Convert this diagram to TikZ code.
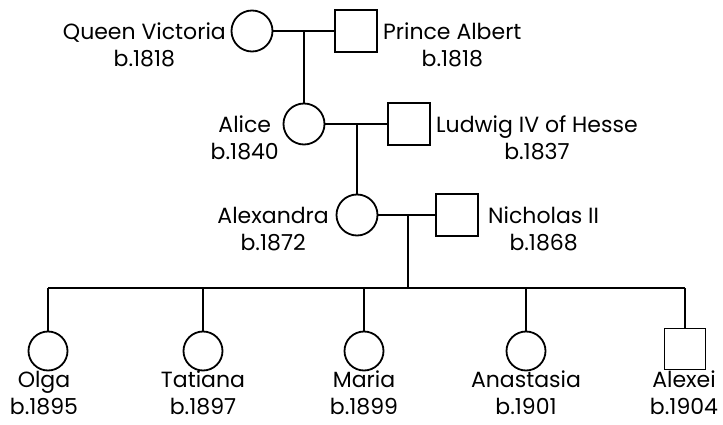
\documentclass[tikz,border=0pt]{standalone}
\usepackage{fontspec}
\setmainfont{Poppins}
\begin{document}
\begin{tikzpicture}[x=1pt,y=-1pt,
  female/.style={draw,circle,line width=1.8pt,minimum size=41pt,inner sep=0pt},
  male/.style={draw,rectangle,line width=1.8pt,minimum size=42pt,inner sep=0pt},
  kid/.style={draw,circle,line width=1.8pt,minimum size=39pt,inner sep=0pt},
  link/.style={line width=2pt},
  lbl/.style={align=center,inner sep=0pt,font=\fontsize{22}{27}\selectfont}]
\useasboundingbox (0,0) rectangle (723,425);
% parents
\node[female] (qv) at (252,31) {};
\node[male] (pa) at (356,31) {};
\node[female] (alice) at (304,124) {};
\node[male] (ludwig) at (409,124) {};
\node[female] (alex) at (357,215) {};
\node[male] (nich) at (457,215) {};
% children
\node[kid] (olga) at (48,351) {};
\node[kid] (tatiana) at (203,351) {};
\node[kid] (maria) at (364,351) {};
\node[kid] (anastasia) at (526,351) {};
\node[male,minimum size=41pt] (alexei) at (685,349) {};
% labels
\node[lbl,anchor=east] (lqv) at (226,45) {Queen Victoria\\b.1818};
\node[lbl,anchor=west] (lpa) at (383,45) {Prince Albert\\b.1818};
\node[lbl,anchor=east] (lalice) at (279,138) {Alice\\b.1840};
\node[lbl,anchor=west] (lludwig) at (436,138) {Ludwig IV of Hesse\\b.1837};
\node[lbl,anchor=east] (lalex) at (329,229) {Alexandra\\b.1872};
\node[lbl,anchor=west] (lnich) at (488,229) {Nicholas II\\b.1868};
\node[lbl,anchor=north] (lolga) at (44,371) {Olga\\b.1895};
\node[lbl,anchor=north] (ltatiana) at (203,371) {Tatiana\\b.1897};
\node[lbl,anchor=north] (lmaria) at (364,371) {Maria\\b.1899};
\node[lbl,anchor=north] (lanastasia) at (526,371) {Anastasia\\b.1901};
\node[lbl,anchor=north] (lalexei) at (684,371) {Alexei\\b.1904};
% connectors
\coordinate (sib) at (408,288);
\draw[link] (qv.east) -- (pa.west);
\draw[link] (alice.north) -- (alice.north |- qv.east);
\draw[link] (alice.east) -- (ludwig.west);
\draw[link] (alex.north) -- (alex.north |- alice.east);
\draw[link] (alex.east) -- (nich.west);
\draw[link] (sib |- alex.east) -- (sib);
\draw[link] (olga.north |- sib) -- (alexei.north |- sib);
\foreach \k in {olga,tatiana,maria,anastasia,alexei}
  \draw[link] (\k.north) -- (\k.north |- sib);
\end{tikzpicture}
\end{document}
